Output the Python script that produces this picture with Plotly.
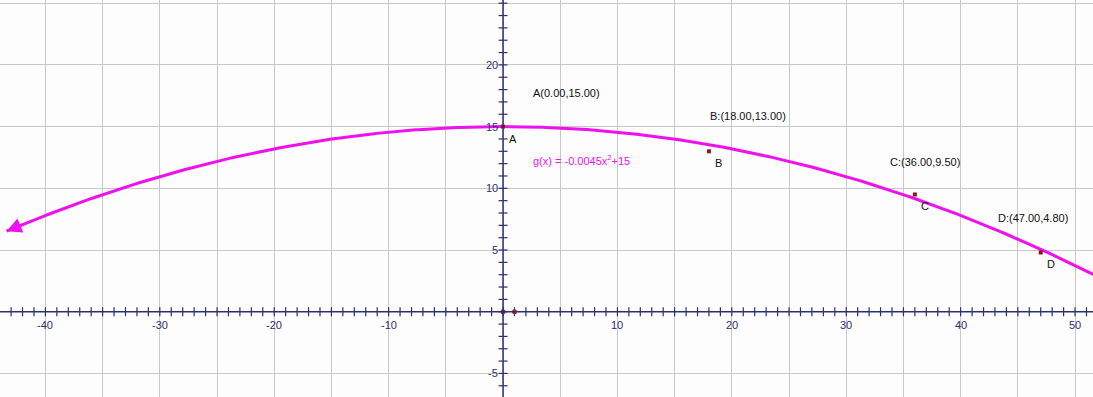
import plotly.graph_objects as go

# ---- data ----
coef_a = -0.0045
coef_c = 15
point_names = ["A", "B", "C", "D"]
point_x = [0.00, 18.00, 36.00, 47.00]
point_y = [15.00, 13.00, 9.50, 4.80]
x_tick_labels = [-40, -30, -20, -10, 10, 20, 30, 40, 50]
y_tick_labels = [-5, 5, 10, 15, 20]
unit_points_x = [0, 1]
unit_points_y = [0, 0]

# ---- layout constants ----
W, H = 1093, 397
XR = [-43.97, 51.57]
YR = [-6.91, 25.26]
px_x = W / (XR[1] - XR[0])
px_y = H / (YR[1] - YR[0])
AXIS = "#2e2e72"
MAG = "#ee11ee"
PT = "#8b1a1a"
FONT = "Liberation Sans, Arial, sans-serif"

# label pixel offsets (coordinate label, letter label)
coord_shift = [(28, 34), (-1, 35), (-27, 32), (-45, 34)]
letter_shift = (10, -12)

fig = go.Figure()

# curve
n = 400
x0, x1 = -43.4, 53.0
cx = [x0 + (x1 - x0) * i / (n - 1) for i in range(n)]
cy = [coef_a * v * v + coef_c for v in cx]

# ticks (every 1 unit) crossing axes
hx = 4.5 / px_x
hy = 4.5 / px_y
tx, ty = [], []
for t in range(int(XR[0]), int(XR[1]) + 1):
    tx += [t, t, None]
    ty += [-hy, hy, None]
for t in range(int(YR[0]), int(YR[1]) + 1):
    tx += [-hx, hx, None]
    ty += [t, t, None]
fig.add_trace(go.Scatter(x=tx, y=ty, mode="lines", line=dict(color=AXIS, width=1.2),
                         hoverinfo="skip", showlegend=False))

fig.add_trace(go.Scatter(x=cx, y=cy, mode="lines", line=dict(color=MAG, width=3),
                         hoverinfo="skip", showlegend=False))

# points
fig.add_trace(go.Scatter(x=point_x, y=point_y, mode="markers",
                         marker=dict(color=PT, size=4, symbol="square"),
                         showlegend=False))
fig.add_trace(go.Scatter(x=unit_points_x, y=unit_points_y, mode="markers",
                         marker=dict(color="#b22222", size=5),
                         showlegend=False))

shapes = [
    dict(type="line", xref="x", yref="y", x0=XR[0], x1=XR[1], y0=0, y1=0,
         line=dict(color=AXIS, width=1.5), layer="above"),
    dict(type="line", xref="x", yref="y", x0=0, x1=0, y0=YR[0], y1=YR[1],
         line=dict(color=AXIS, width=1.5), layer="above"),
]

ann = []
# x tick labels
for v in x_tick_labels:
    ann.append(dict(x=v, y=0, xref="x", yref="y", text=str(v), showarrow=False,
                    yshift=-13, font=dict(family=FONT, size=11, color=AXIS)))
for v in y_tick_labels:
    ann.append(dict(x=0, y=v, xref="x", yref="y", text=str(v), showarrow=False,
                    xanchor="right", xshift=-3, font=dict(family=FONT, size=11, color=AXIS)))

# point labels
for i, (nm, px, py) in enumerate(zip(point_names, point_x, point_y)):
    sep = "" if nm == "A" else ":"
    ann.append(dict(x=px, y=py, xref="x", yref="y",
                    text=f"{nm}{sep}({px:.2f},{py:.2f})", showarrow=False,
                    xanchor="left", xshift=coord_shift[i][0], yshift=coord_shift[i][1],
                    font=dict(family=FONT, size=11, color="#111111")))
    ann.append(dict(x=px, y=py, xref="x", yref="y", text=nm, showarrow=False,
                    xshift=letter_shift[0], yshift=letter_shift[1],
                    font=dict(family=FONT, size=11, color="#111111")))

# function label
ann.append(dict(x=point_x[0], y=point_y[0], xref="x", yref="y",
                text=f"g(x) = {coef_a}x<sup>2</sup>+{coef_c}", showarrow=False,
                xanchor="left", xshift=28, yshift=-33,
                font=dict(family=FONT, size=11, color=MAG)))

# arrow at left end of curve
ann.append(dict(x=cx[0], y=cy[0], ax=cx[0] + 1.5, ay=coef_a * (cx[0] + 1.5) ** 2 + coef_c,
                xref="x", yref="y", axref="x", ayref="y", text="", showarrow=True,
                arrowhead=2, arrowsize=1.2, arrowwidth=2.5, arrowcolor=MAG))

fig.update_layout(
    width=W, height=H, margin=dict(l=0, r=0, t=0, b=0),
    paper_bgcolor="#fdfdfd", plot_bgcolor="#fdfdfd",
    shapes=shapes, annotations=ann, showlegend=False,
    xaxis=dict(range=XR, showgrid=True, gridcolor="#c8c8c8", gridwidth=1, dtick=5, tick0=0,
               zeroline=False, showticklabels=False, ticks="", showline=False, fixedrange=True),
    yaxis=dict(range=YR, showgrid=True, gridcolor="#c8c8c8", gridwidth=1, dtick=5, tick0=0,
               zeroline=False, showticklabels=False, ticks="", showline=False, fixedrange=True),
)

fig.write_html("out.html", config={"displayModeBar": False},
               post_script="document.body.style.margin='0';document.body.style.overflow='hidden';")
